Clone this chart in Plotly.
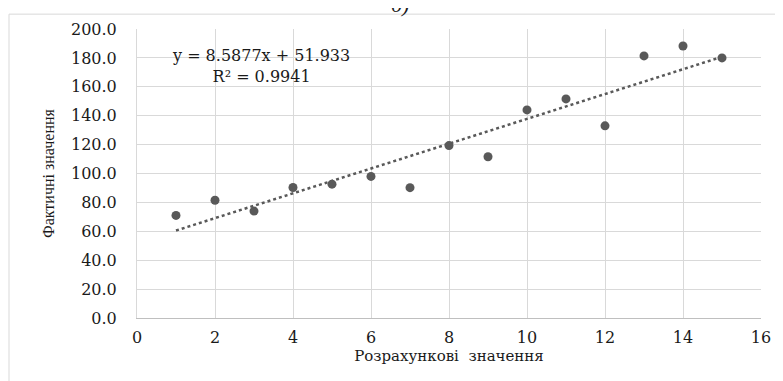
import plotly.graph_objects as go

x_vals = [1, 2, 3, 4, 5, 6, 7, 8, 9, 10, 11, 12, 13, 14, 15]
y_vals = [71.0, 81.5, 74.0, 90.3, 92.6, 98.0, 90.2, 119.3, 111.6, 144.0, 151.6, 133.0, 181.4, 188.2, 180.0]
slope = 8.5877
intercept = 51.933
r2 = 0.9941
x_ticks = [0, 2, 4, 6, 8, 10, 12, 14, 16]
y_ticks = [0, 20, 40, 60, 80, 100, 120, 140, 160, 180, 200]

trend_x = [min(x_vals), max(x_vals)]
trend_y = [slope * v + intercept for v in trend_x]

FONT = "DejaVu Serif"
FONT2 = "Liberation Serif"
fig = go.Figure()
fig.add_trace(go.Scatter(x=trend_x, y=trend_y, mode="lines",
                         line=dict(color="#595959", width=2.5, dash="dot"),
                         hoverinfo="skip", showlegend=False))
fig.add_trace(go.Scatter(x=x_vals, y=y_vals, mode="markers",
                         marker=dict(color="#595959", size=9),
                         showlegend=False))

# page body has an 8px offset
OFF = 8
L, R, T, B = 137 - OFF, 22, 26 - OFF, 63
W, H = 783 - OFF, 381 - OFF
pw, ph = W - L - R, H - T - B

def px(xw):
    return (xw - OFF - L) / pw

def py(yw):
    return (H - B - (yw - OFF)) / ph

fig.update_layout(
    width=W, height=H,
    margin=dict(l=L, r=R, t=T, b=B),
    paper_bgcolor="white", plot_bgcolor="white",
    font=dict(family=FONT, color="#1a1a1a"),
    xaxis=dict(range=[0, 16], tickvals=x_ticks, ticktext=[str(v) for v in x_ticks],
               showgrid=True, gridcolor="#d9d9d9", gridwidth=1,
               showline=True, linecolor="#bfbfbf", zeroline=False,
               ticks="outside", ticklen=5, tickcolor="rgba(0,0,0,0)",
               tickfont=dict(size=16, family=FONT),
               title=dict(text="Розрахункові  значення", font=dict(size=15, family=FONT), standoff=2)),
    yaxis=dict(range=[0, 200], tickvals=y_ticks, ticktext=[f"{v:.1f}" for v in y_ticks],
               showgrid=True, gridcolor="#d9d9d9", gridwidth=1,
               showline=True, linecolor="#d9d9d9", zeroline=False,
               ticks="outside", ticklen=16, tickcolor="rgba(0,0,0,0)",
               tickfont=dict(size=16, family=FONT),
               title=dict(text="Фактичні значення", font=dict(size=16, family=FONT2), standoff=12)),
    shapes=[dict(type="rect", xref="paper", yref="paper",
                 x0=px(9), x1=px(782), y0=py(400), y1=py(11),
                 line=dict(color="#d9d9d9", width=1), layer="below")],
    annotations=[
        dict(text=f"y = {slope}x + {intercept}<br>R² = {r2}", xref="paper", yref="paper",
             x=px(261), y=py(63), xanchor="center", yanchor="middle", showarrow=False,
             align="center", font=dict(size=16, family=FONT, color="#1a1a1a")),
        dict(text="<i>б)</i>", xref="paper", yref="paper", x=px(400), y=py(16),
             xanchor="center", yanchor="bottom", showarrow=False,
             font=dict(size=22, family=FONT2, color="#1a1a1a")),
    ],
)

fig.write_html("out.html")
